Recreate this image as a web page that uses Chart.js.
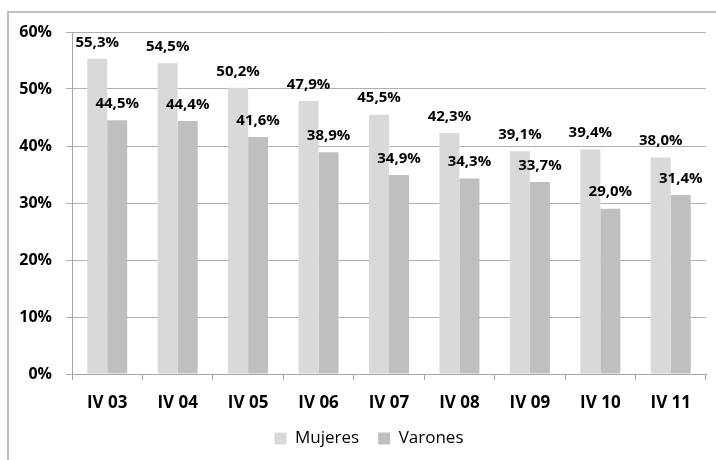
<!DOCTYPE html>
<html>
<head>
<meta charset="utf-8">
<script src="https://cdn.jsdelivr.net/npm/chart.js@4.4.0/dist/chart.umd.min.js"></script>
<style>
  html, body { margin: 0; padding: 0; background: #ffffff; }
  #wrap { position: relative; width: 716px; height: 460px; overflow: hidden; }
  #frame { position: absolute; left: 7px; top: 11px; width: 760px; height: 500px;
           border-left: 2px solid #c0c0c0; border-top: 2px solid #c0c0c0; pointer-events: none; }
  canvas { position: absolute; left: 0; top: 0; }
</style>
</head>
<body>
<div id="wrap">
  <div id="frame"></div>
  <canvas id="c" width="716" height="460"></canvas>
</div>
<script>
const categories = ['IV 03', 'IV 04', 'IV 05', 'IV 06', 'IV 07', 'IV 08', 'IV 09', 'IV 10', 'IV 11'];
const mujeres = [55.3, 54.5, 50.2, 47.9, 45.5, 42.3, 39.1, 39.4, 38.0];
const varones = [44.5, 44.4, 41.6, 38.9, 34.9, 34.3, 33.7, 29.0, 31.4];
const yTicks = [0, 10, 20, 30, 40, 50, 60];

const fmt = v => v.toFixed(1).replace('.', ',') + '%';

const labelPlugin = {
  id: 'barLabels',
  afterDatasetsDraw(chart) {
    const ctx = chart.ctx;
    ctx.save();
    ctx.font = 'bold 15px "Open Sans"';
    ctx.fillStyle = '#000000';
    ctx.textAlign = 'center';
    ctx.textBaseline = 'middle';
    chart.data.datasets.forEach((ds, i) => {
      const meta = chart.getDatasetMeta(i);
      meta.data.forEach((el, j) => {
        ctx.fillText(fmt(ds.data[j]), el.x, el.y - 16.5);
      });
    });
    ctx.restore();
  }
};

const legendShift = {
  id: 'legendShift',
  afterLayout(chart) {
    if (chart.legend) {
      chart.legend.left += 16;
      chart.legend.right += 16;
    }
  }
};

new Chart(document.getElementById('c'), {
  type: 'bar',
  data: {
    labels: categories,
    datasets: [
      { label: 'Mujeres', data: mujeres, backgroundColor: '#d9d9d9', borderWidth: 0,
        categoryPercentage: 0.568, barPercentage: 1.0 },
      { label: 'Varones', data: varones, backgroundColor: '#bfbfbf', borderWidth: 0,
        categoryPercentage: 0.568, barPercentage: 1.0 }
    ]
  },
  options: {
    responsive: false,
    animation: false,
    devicePixelRatio: 1,
    layout: { padding: { top: 32, right: 10, left: 0, bottom: 3 } },
    plugins: {
      tooltip: { enabled: false },
      legend: {
        position: 'bottom',
        labels: {
          boxWidth: 12, boxHeight: 12, padding: 19,
          color: '#000000',
          font: { family: '"Open Sans"', size: 17 }
        }
      }
    },
    scales: {
      x: {
        grid: { display: true, offset: true, drawOnChartArea: false, drawTicks: true,
                tickLength: 6, color: '#a6a6a6' },
        border: { display: true, color: '#a6a6a6' },
        ticks: { color: '#000000', padding: 13, maxRotation: 0,
                 font: { family: '"Open Sans"', size: 17, weight: 'bold' } },
        afterFit(scale) { scale.height = 37; }
      },
      y: {
        min: 0, max: 60,
        afterBuildTicks(scale) { scale.ticks = yTicks.map(v => ({ value: v })); },
        grid: { color: '#b0b0b0', tickLength: 6, drawTicks: true },
        border: { display: true, color: '#a6a6a6' },
        ticks: { color: '#000000', padding: 14,
                 callback: v => v + '%',
                 font: { family: '"Open Sans"', size: 16, weight: 'bold' } },
        afterFit(scale) { scale.width = 72; }
      }
    }
  },
  plugins: [labelPlugin, legendShift]
});
</script>
</body>
</html>
